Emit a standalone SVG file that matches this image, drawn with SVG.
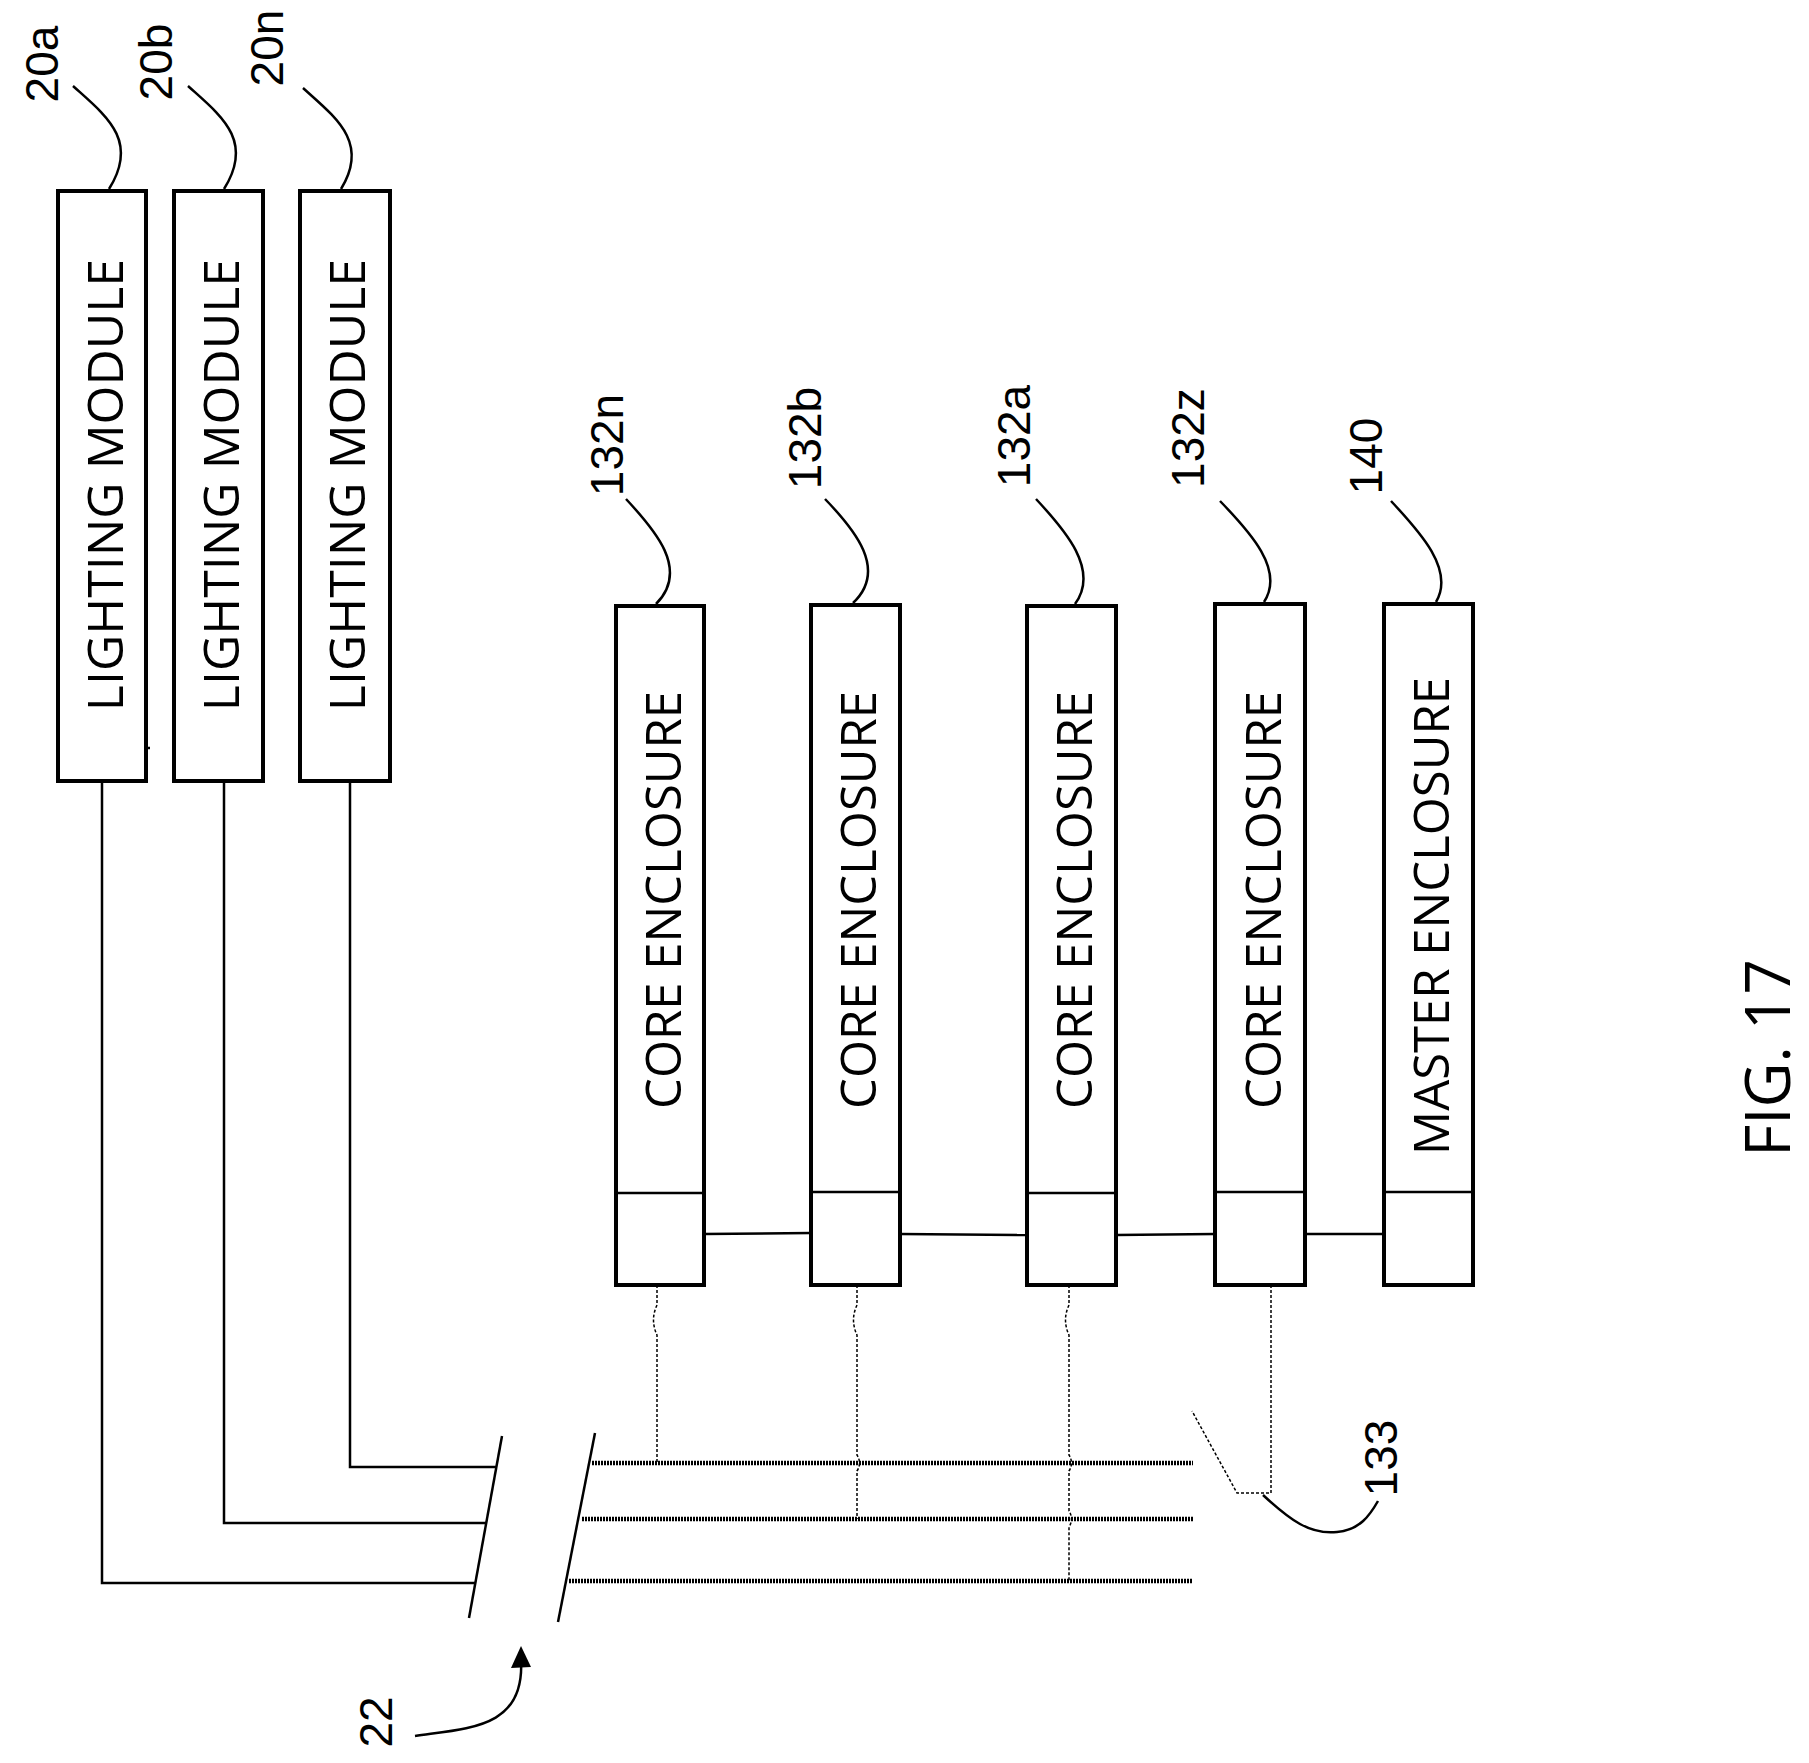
<svg xmlns="http://www.w3.org/2000/svg" width="1809" height="1763" viewBox="0 0 1809 1763">
<style>
.box{fill:#fff;stroke:#000;stroke-width:4}
.ln{fill:none;stroke:#000;stroke-width:2.5}
.ld{fill:none;stroke:#000;stroke-width:2.5}
.dash{fill:none;stroke:#000;stroke-width:1.5;stroke-dasharray:3 2}
.bus{fill:none;stroke:#000;stroke-width:4.5;stroke-dasharray:2 1}
.t{font-family:"Open Sans","Liberation Sans",sans-serif;font-size:50px;text-anchor:middle;dominant-baseline:central}
.c{font-size:49px}
.n{font-family:"Liberation Sans",sans-serif;font-size:46px;text-anchor:middle;dominant-baseline:central}
</style>
<rect width="1809" height="1763" fill="#fff"/>
<g id="lm20a"><rect class="box" x="58" y="191" width="88" height="590"/><text class="t" transform="translate(104,485) rotate(-90)">LIGHTING MODULE</text></g>
<g id="lm20b"><rect class="box" x="174" y="191" width="89" height="590"/><text class="t" transform="translate(220,485) rotate(-90)">LIGHTING MODULE</text></g>
<g id="lm20n"><rect class="box" x="300" y="191" width="90" height="590"/><text class="t" transform="translate(346,485) rotate(-90)">LIGHTING MODULE</text></g>
<g id="ce132n"><rect class="box" x="616" y="606" width="88" height="679"/><line class="ln" x1="616" y1="1193" x2="704" y2="1193" stroke-width="4"/><text class="t c" transform="translate(662,900) rotate(-90)">CORE ENCLOSURE</text></g>
<g id="ce132b"><rect class="box" x="811" y="605" width="89" height="680"/><line class="ln" x1="811" y1="1192" x2="900" y2="1192" stroke-width="4"/><text class="t c" transform="translate(857,900) rotate(-90)">CORE ENCLOSURE</text></g>
<g id="ce132a"><rect class="box" x="1027" y="606" width="89" height="679"/><line class="ln" x1="1027" y1="1193" x2="1116" y2="1193" stroke-width="4"/><text class="t c" transform="translate(1073,900) rotate(-90)">CORE ENCLOSURE</text></g>
<g id="ce132z"><rect class="box" x="1215" y="604" width="90" height="681"/><line class="ln" x1="1215" y1="1192" x2="1305" y2="1192" stroke-width="4"/><text class="t c" transform="translate(1262,900) rotate(-90)">CORE ENCLOSURE</text></g>
<g id="me140"><rect class="box" x="1384" y="604" width="89" height="681"/><line class="ln" x1="1384" y1="1192" x2="1473" y2="1192" stroke-width="4"/><text class="t c" transform="translate(1430,916) rotate(-90)">MASTER ENCLOSURE</text></g>
<g id="labels">
<text class="n" transform="translate(42,64) rotate(-90)">20a</text>
<text class="n" transform="translate(156,62) rotate(-90)">20b</text>
<text class="n" transform="translate(267,48) rotate(-90)">20n</text>
<text class="n" transform="translate(607,445) rotate(-90)">132n</text>
<text class="n" transform="translate(805,438) rotate(-90)">132b</text>
<text class="n" transform="translate(1014,436) rotate(-90)">132a</text>
<text class="n" transform="translate(1188,438) rotate(-90)">132z</text>
<text class="n" transform="translate(1366,456) rotate(-90)">140</text>
<text class="n" transform="translate(1381,1458) rotate(-90)">133</text>
<text class="n" transform="translate(376,1722) rotate(-90)">22</text>
<text class="t" style="font-size:62px" transform="translate(1766,1058) rotate(-90)">FIG. 17</text>
</g>
<g id="connectors">
<path class="ld" d="M73,86 C105,115 140,140 109,189"/>
<path class="ld" d="M188,86 C220,115 255,140 224,189"/>
<path class="ld" d="M303,88 C335,117 370,142 341,189"/>
<path class="ld" d="M626,499 C655,530 690,570 656,604"/>
<path class="ld" d="M825,499 C855,530 888,570 853,603"/>
<path class="ld" d="M1036,499 C1065,530 1100,570 1075,604"/>
<path class="ld" d="M1220,501 C1250,532 1285,570 1264,602"/>
<path class="ld" d="M1391,501 C1420,532 1455,570 1436,602"/>
<line class="ln" x1="704" y1="1234" x2="811" y2="1233"/>
<line class="ln" x1="900" y1="1234" x2="1027" y2="1235"/>
<line class="ln" x1="1116" y1="1235" x2="1215" y2="1234"/>
<line class="ln" x1="1305" y1="1234" x2="1384" y2="1234"/>
<line class="ln" x1="146" y1="748" x2="150" y2="748"/>
<path class="ln" d="M350,781 V1467 H496"/>
<path class="ln" d="M224,781 V1523 H487"/>
<path class="ln" d="M102,781 V1583 H476"/>
<line class="ln" x1="502" y1="1436" x2="469" y2="1618"/>
<line class="ln" x1="595" y1="1433" x2="558" y2="1622"/>
<line class="bus" x1="592" y1="1463" x2="1193" y2="1463"/>
<line class="bus" x1="582" y1="1519" x2="1193" y2="1519"/>
<line class="bus" x1="569" y1="1581" x2="1193" y2="1581"/>
<path class="dash" d="M657,1285 V1305 Q650,1320 657,1335 V1463"/>
<path class="dash" d="M857,1285 V1305 Q850,1320 857,1335 V1455 Q862,1463 857,1471 V1519"/>
<path class="dash" d="M1069,1285 V1305 Q1062,1320 1069,1335 V1455 Q1074,1463 1069,1471 V1511 Q1074,1519 1069,1527 V1581"/>
<path class="dash" d="M1271,1285 V1493 H1237 L1192,1411"/>
<path class="ld" d="M1263,1495 C1290,1520 1310,1535 1337,1532 C1360,1530 1370,1515 1378,1501"/>
<path class="ld" d="M415,1736 C470,1728 525,1728 521,1660"/>
<path d="M521,1646 L511,1668 L531,1667 Z" fill="#000"/>
</g>
</svg>
